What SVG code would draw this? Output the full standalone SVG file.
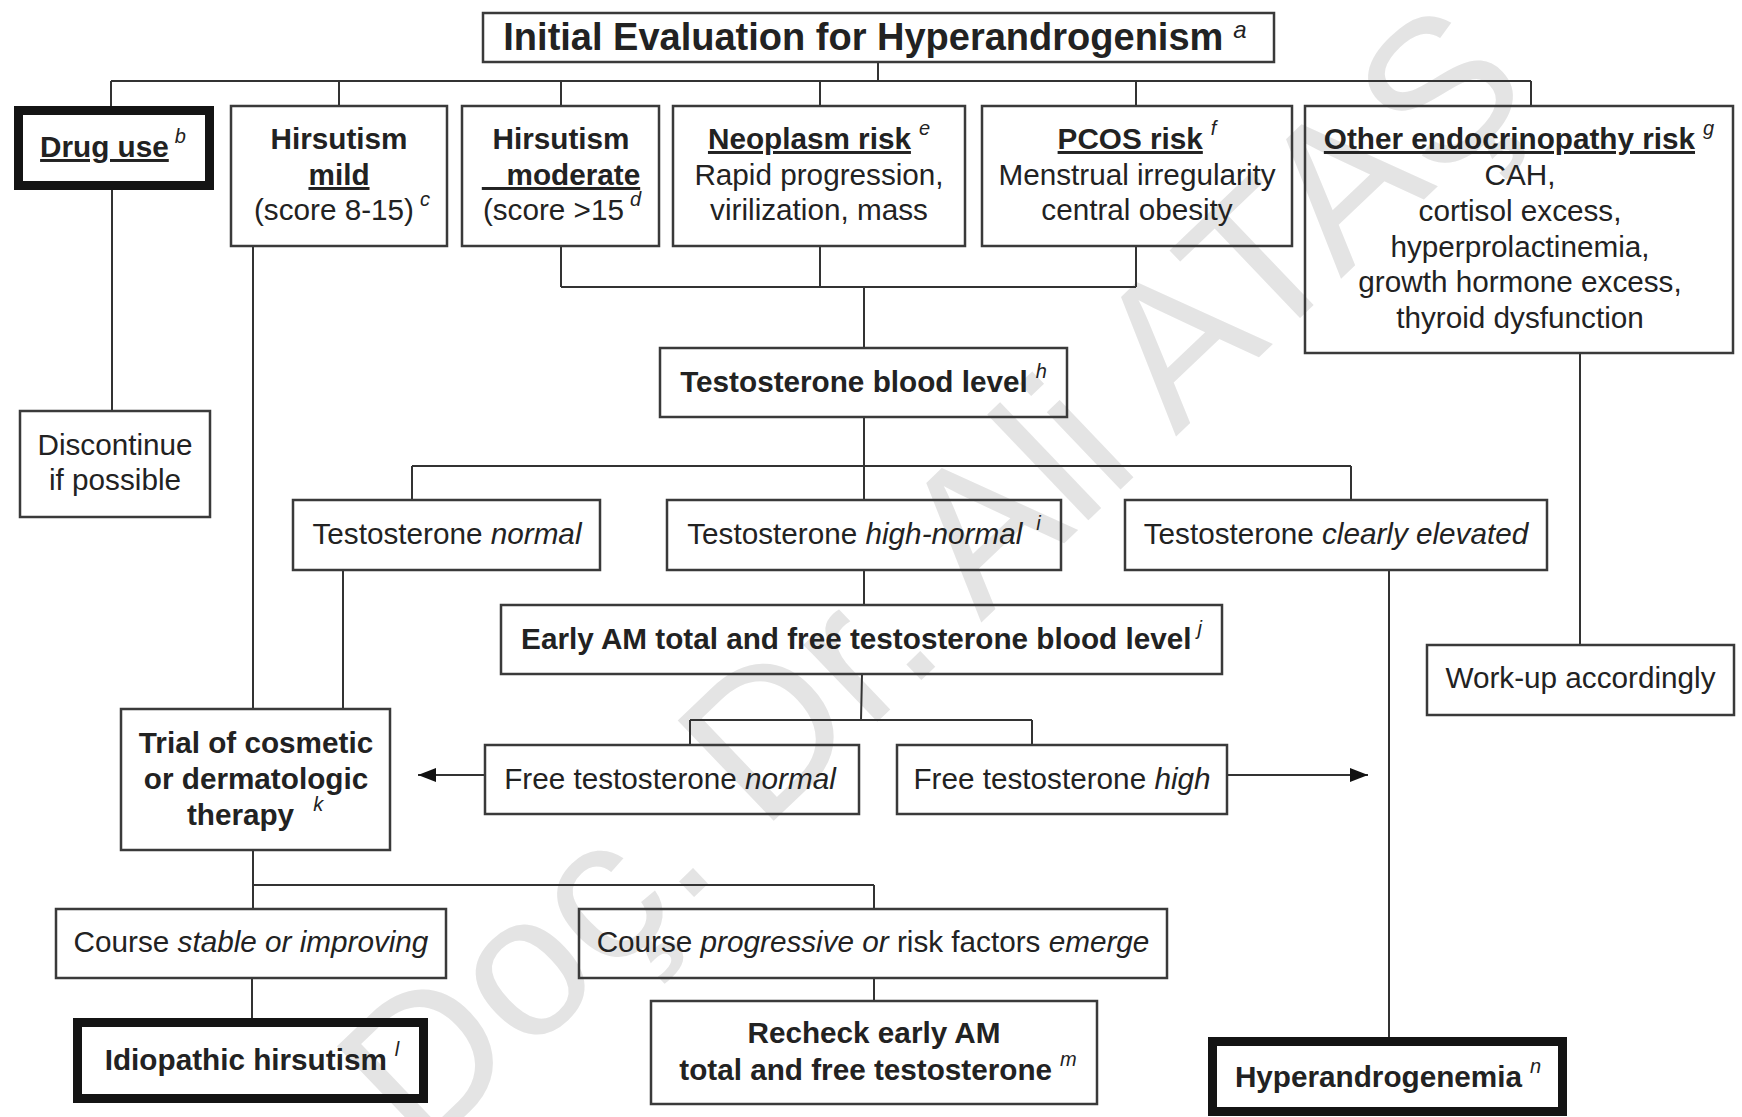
<svg xmlns="http://www.w3.org/2000/svg" width="1742" height="1117" viewBox="0 0 1742 1117">
<style>
.bg{fill:#ffffff}
.wm{font-family:"Liberation Sans",Arial,sans-serif;font-size:202px;fill:#e4e4e4}
.box{fill:none;stroke:#3a3a3a;stroke-width:2.5}
.thick{fill:none;stroke:#141414;stroke-width:9}
.t{font-family:"Liberation Sans",Arial,sans-serif;font-size:29.7px;fill:#222;text-anchor:middle}
.b{font-weight:bold}
.i{font-style:italic}
.u{text-decoration:underline}
.sup{font-style:italic;font-weight:normal;font-size:20px}
.ln{fill:none;stroke:#333;stroke-width:2}
</style>
<defs>
<marker id="arr" markerUnits="userSpaceOnUse" markerWidth="20" markerHeight="16" refX="18" refY="7" orient="auto">
<path d="M0,0 L18,7 L0,14 z" fill="#111"/>
</marker>
</defs>
<rect class="bg" x="0" y="0" width="1742" height="1117"/>
<text class="wm" x="421" y="1158" transform="rotate(-43.7 421 1158)">Doç. Dr. Ali ATAŞ</text>

<g id="connectors">
<path class="ln" d="M878,62 V81 M111,81 H1531 M111,81 V106 M339,81 V106 M561,81 V106 M820,81 V106 M1136,81 V106 M1531,81 V106"/>
<path class="ln" d="M112,190 V411"/>
<path class="ln" d="M253,246 V709"/>
<path class="ln" d="M561,246 V287 M820,246 V287 M1136,246 V287 M561,287 H1136 M864,287 V348"/>
<path class="ln" d="M864,417 V500 M412,466 H1351 M412,466 V500 M1351,466 V500"/>
<path class="ln" d="M343,570 V709"/>
<path class="ln" d="M864,570 V605"/>
<path class="ln" d="M862,674 L861,720 M690,720 H1032 M690,720 V745 M1032,720 V745"/>
<path class="ln" d="M485,775 H418" marker-end="url(#arr)"/>
<path class="ln" d="M1227,775 H1368" marker-end="url(#arr)"/>
<path class="ln" d="M1389,570 V1037"/>
<path class="ln" d="M1580,353 V645"/>
<path class="ln" d="M253,850 V909 M253,885 H874 M874,885 V909"/>
<path class="ln" d="M252,978 V1018"/>
<path class="ln" d="M874,978 V1001"/>
</g>

<g id="title">
<rect class="box" x="483" y="13" width="791" height="49"/>
<text class="t b" x="875" y="50" style="font-size:38px">Initial Evaluation for Hyperandrogenism<tspan class="sup" dx="10" dy="-12" style="font-size:24px">a</tspan></text>
</g>

<g id="drug-use">
<rect class="thick" x="18.5" y="110.5" width="191" height="75"/>
<text class="t b" x="113" y="157"><tspan class="u">Drug use</tspan><tspan class="sup" dx="6" dy="-14">b</tspan></text>
</g>

<g id="hirsutism-mild">
<rect class="box" x="231" y="106" width="216" height="140"/>
<text class="t b" x="339" y="149">Hirsutism</text>
<text class="t b u" x="339" y="185">mild</text>
<text class="t" x="342" y="220">(score 8-15)<tspan class="sup" dx="6" dy="-14">c</tspan></text>
</g>

<g id="hirsutism-moderate">
<rect class="box" x="462" y="106" width="197" height="140"/>
<text class="t b" x="561" y="149">Hirsutism</text>
<text class="t b u" x="561" y="185">&#160;&#160;&#160;moderate</text>
<text class="t" x="562" y="220">(score &gt;15<tspan class="sup" dx="6" dy="-14">d</tspan></text>
</g>

<g id="neoplasm-risk">
<rect class="box" x="673" y="106" width="292" height="140"/>
<text class="t b" x="819" y="149"><tspan class="u">Neoplasm risk</tspan><tspan class="sup" dx="8" dy="-14">e</tspan></text>
<text class="t" x="819" y="185">Rapid progression,</text>
<text class="t" x="819" y="220">virilization, mass</text>
</g>

<g id="pcos-risk">
<rect class="box" x="982" y="106" width="310" height="140"/>
<text class="t b" x="1137" y="149"><tspan class="u">PCOS risk</tspan><tspan class="sup" dx="8" dy="-14">f</tspan></text>
<text class="t" x="1137" y="185">Menstrual irregularity</text>
<text class="t" x="1137" y="220">central obesity</text>
</g>

<g id="other-endocrinopathy">
<rect class="box" x="1305" y="106" width="428" height="247"/>
<text class="t b" x="1519" y="149"><tspan class="u">Other endocrinopathy risk</tspan><tspan class="sup" dx="8" dy="-14">g</tspan></text>
<text class="t" x="1520" y="185">CAH,</text>
<text class="t" x="1520" y="221">cortisol excess,</text>
<text class="t" x="1520" y="257">hyperprolactinemia,</text>
<text class="t" x="1520" y="292">growth hormone excess,</text>
<text class="t" x="1520" y="328">thyroid dysfunction</text>
</g>

<g id="testosterone-blood-level">
<rect class="box" x="660" y="348" width="407" height="69"/>
<text class="t b" x="863.5" y="392">Testosterone blood level<tspan class="sup" dx="8" dy="-14">h</tspan></text>
</g>

<g id="discontinue">
<rect class="box" x="20" y="411" width="190" height="106"/>
<text class="t" x="115" y="455">Discontinue</text>
<text class="t" x="115" y="490">if possible</text>
</g>

<g id="testosterone-normal">
<rect class="box" x="293" y="500" width="307" height="70"/>
<text class="t" x="447" y="544">Testosterone <tspan class="i">normal</tspan></text>
</g>

<g id="testosterone-high-normal">
<rect class="box" x="667" y="500" width="394" height="70"/>
<text class="t" x="864" y="544">Testosterone <tspan class="i">high-normal</tspan><tspan class="sup" dx="14" dy="-14">i</tspan></text>
</g>

<g id="testosterone-clearly-elevated">
<rect class="box" x="1125" y="500" width="422" height="70"/>
<text class="t" x="1336" y="544">Testosterone <tspan class="i">clearly elevated</tspan></text>
</g>

<g id="early-am">
<rect class="box" x="501" y="605" width="721" height="69"/>
<text class="t b" x="861.5" y="649">Early AM total and free testosterone blood level<tspan class="sup" dx="6" dy="-14">j</tspan></text>
</g>

<g id="work-up">
<rect class="box" x="1427" y="645" width="307" height="70"/>
<text class="t" x="1580.5" y="688">Work-up accordingly</text>
</g>

<g id="free-normal">
<rect class="box" x="485" y="745" width="374" height="69"/>
<text class="t" x="670" y="789">Free testosterone <tspan class="i">normal</tspan></text>
</g>

<g id="free-high">
<rect class="box" x="897" y="745" width="330" height="69"/>
<text class="t" x="1062" y="789">Free testosterone <tspan class="i">high</tspan></text>
</g>

<g id="trial-therapy">
<rect class="box" x="121" y="709" width="269" height="141"/>
<text class="t b" x="256" y="753">Trial of cosmetic</text>
<text class="t b" x="256" y="789">or dermatologic</text>
<text class="t b" x="255" y="825">therapy<tspan class="sup" dx="19" dy="-14">k</tspan></text>
</g>

<g id="course-stable">
<rect class="box" x="56" y="909" width="390" height="69"/>
<text class="t" x="251" y="952">Course <tspan class="i">stable or improving</tspan></text>
</g>

<g id="course-progressive">
<rect class="box" x="579" y="909" width="588" height="69"/>
<text class="t" x="873" y="952">Course <tspan class="i">progressive or</tspan> risk factors <tspan class="i">emerge</tspan></text>
</g>

<g id="idiopathic-hirsutism">
<rect class="thick" x="77.5" y="1022.5" width="346" height="76"/>
<text class="t b" x="252" y="1070">Idiopathic hirsutism<tspan class="sup" dx="8" dy="-14">l</tspan></text>
</g>

<g id="recheck">
<rect class="box" x="651" y="1001" width="446" height="103"/>
<text class="t b" x="874" y="1043">Recheck early AM</text>
<text class="t b" x="878" y="1080">total and free testosterone<tspan class="sup" dx="8" dy="-14">m</tspan></text>
</g>

<g id="hyperandrogenemia">
<rect class="thick" x="1212.5" y="1041.5" width="350" height="70"/>
<text class="t b" x="1388" y="1087">Hyperandrogenemia<tspan class="sup" dx="8" dy="-14">n</tspan></text>
</g>
</svg>
